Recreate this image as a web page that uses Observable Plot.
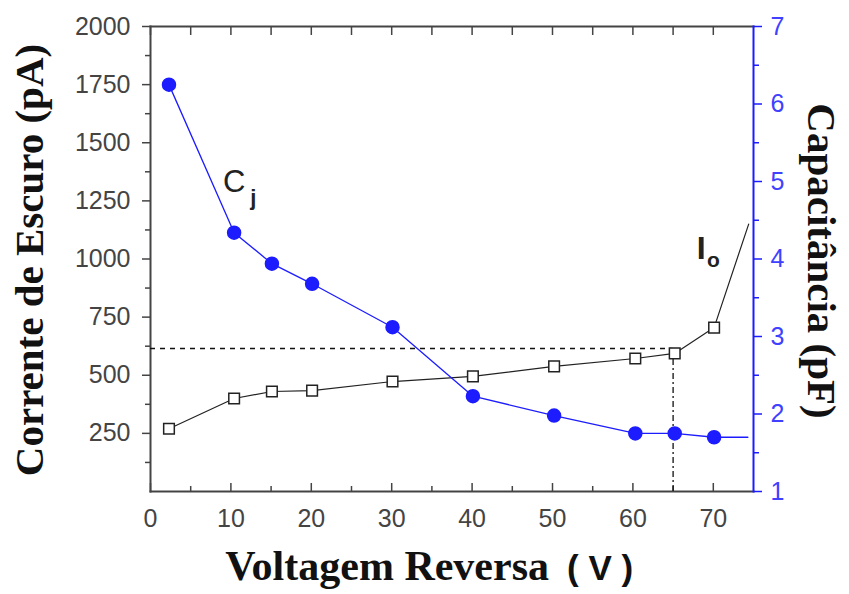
<!DOCTYPE html>
<html><head><meta charset="utf-8">
<script src="https://cdn.jsdelivr.net/npm/d3@7"></script>
<script src="https://cdn.jsdelivr.net/npm/@observablehq/plot@0.6"></script>
<style>body{margin:0;background:#fff}</style>
</head><body><div id="chart"></div>
<script>
const voltage = [2.3, 10.4, 15.1, 20.1, 30.1, 40.1, 50.2, 60.3, 65.2, 70.1];
const current = [270, 400, 430, 434, 473, 495, 538, 572, 594, 705];
const capacitance = [6.25, 4.34, 3.94, 3.68, 3.12, 2.23, 1.98, 1.75, 1.75, 1.70];
const ioTail = {v: 74.4, i: 1150};
const cjTail = {v: 74.3, c: 1.70};
const refCurrent = 615, refVoltage = 65;
const leftTicks = [250, 500, 750, 1000, 1250, 1500, 1750, 2000];
const leftMinor = [125, 375, 625, 875, 1125, 1375, 1625, 1875];
const xTicks = [0, 10, 20, 30, 40, 50, 60, 70];
const xMinor = [5, 15, 25, 35, 45, 55, 65];
const capTicks = [1, 2, 3, 4, 5, 6, 7];
const capMinor = [1.5, 2.5, 3.5, 4.5, 5.5, 6.5];
const capMin = 1, capMax = 7, iMax = 2000;
const c2i = c => (c - capMin) * iMax / (capMax - capMin);
const i2c = i => i * (capMax - capMin) / iMax + capMin;

const io = voltage.map((v, k) => ({v, i: current[k]}));
const ioLine = [...io, ioTail];
const cj = voltage.map((v, k) => ({v, c: capacitance[k], i: c2i(capacitance[k])}));
const cjLine = [...cj, {v: cjTail.v, c: cjTail.c, i: c2i(cjTail.c)}];

const blue = "#1c1cff";
const tickFont = "'Liberation Sans', Arial, sans-serif";
const serif = "'Liberation Serif', 'Times New Roman', serif";
const fmt = d3.format("d");

const chart = Plot.plot({
  width: 849, height: 594,
  marginLeft: 150, marginRight: 96, marginTop: 26, marginBottom: 103,
  x: {domain: [0, 75]},
  y: {domain: [0, iMax]},
  style: {fontFamily: tickFont, background: "#fff"},
  marks: [
    // frame
    Plot.frame({anchor: "top", stroke: "#444", strokeWidth: 2}),
    Plot.frame({anchor: "left", stroke: "#444", strokeWidth: 2}),
    Plot.frame({anchor: "bottom", stroke: "#444", strokeWidth: 2}),
    Plot.frame({anchor: "right", stroke: blue, strokeWidth: 2}),
    // left axis
    Plot.axisY({anchor: "left", ticks: leftTicks, tickFormat: fmt, tickSize: 8, tickPadding: 12, fontSize: 25, fill: "#444", stroke: "#444", strokeWidth: 1.5, label: null}),
    Plot.axisY({anchor: "left", ticks: leftMinor, tickSize: 5, tickFormat: () => "", stroke: "#444", strokeWidth: 1.5, label: null}),
    // bottom axis (ticks inward)
    Plot.axisX({anchor: "bottom", ticks: xTicks, tickFormat: fmt, tickSize: 0, tickPadding: 18, fontSize: 25, fill: "#444", label: null}),
    Plot.axisX({anchor: "bottom", ticks: xTicks, tickSize: -8, tickFormat: () => "", stroke: "#444", strokeWidth: 1.5, label: null}),
    Plot.axisX({anchor: "bottom", ticks: xMinor, tickSize: -5, tickFormat: () => "", stroke: "#444", strokeWidth: 1.5, label: null}),
    // top axis ticks inward
    Plot.axisX({anchor: "top", ticks: xTicks.concat(xMinor), tickSize: -8, tickFormat: () => "", stroke: "#444", strokeWidth: 1.5, label: null}),
    // right axis (capacitance)
    Plot.axisY({anchor: "right", ticks: capTicks.map(c2i), tickFormat: d => String(Math.round(i2c(d))), tickSize: 8, tickPadding: 9, fontSize: 25, fill: "#4040ff", stroke: blue, strokeWidth: 1.5, label: null}),
    Plot.axisY({anchor: "right", ticks: capMinor.map(c2i), tickSize: 5, tickFormat: () => "", stroke: blue, strokeWidth: 1.5, label: null}),
    // reference lines
    Plot.ruleY([refCurrent], {x1: 0, x2: refVoltage, stroke: "#111", strokeWidth: 1.3, strokeDasharray: "5,5"}),
    Plot.ruleX([refVoltage], {y1: 0, y2: refCurrent, stroke: "#111", strokeWidth: 1.3, strokeDasharray: "6,3,2,3"}),
    // Io series
    Plot.line(ioLine, {x: "v", y: "i", stroke: "#222", strokeWidth: 1.2}),
    Plot.dot(io, {x: "v", y: "i", symbol: "square", r: 6, fill: "#fff", stroke: "#222", strokeWidth: 1.5}),
    // Cj series
    Plot.line(cjLine, {x: "v", y: "i", stroke: blue, strokeWidth: 1.3}),
    Plot.dot(cj, {x: "v", y: "i", r: 6.5, fill: blue, stroke: blue}),
    // series labels
    Plot.text(["C"], {x: 10.4, y: 1329, fontSize: 31, fill: "#222", fontFamily: tickFont}),
    Plot.text(["j"], {x: 12.8, y: 1262, fontSize: 22, fontWeight: "bold", fill: "#222", fontFamily: tickFont}),
    Plot.text(["I"], {x: 68.5, y: 1045, fontSize: 32, fontWeight: "bold", fill: "#222", fontFamily: tickFont}),
    Plot.text(["o"], {x: 70.0, y: 994, fontSize: 21, fontWeight: "bold", fill: "#222", fontFamily: tickFont}),
    // axis titles
    Plot.text(["Corrente de Escuro (pA)"], {frameAnchor: "left", textAnchor: "middle", dx: -121, dy: 1, rotate: -90, fontSize: 41, fontWeight: "bold", fontFamily: serif, fill: "#111"}),
    Plot.text(["Capacitância (pF)"], {frameAnchor: "right", textAnchor: "middle", dx: 68, dy: 2, rotate: 90, fontSize: 41, fontWeight: "bold", fontFamily: serif, fill: "#111"}),
    Plot.text(["Voltagem Reversa"], {frameAnchor: "bottom", textAnchor: "end", dx: 97, dy: 88, fontSize: 42, fontWeight: "bold", fontFamily: serif, fill: "#111"}),
    Plot.text(["( V )"], {frameAnchor: "bottom", textAnchor: "start", dx: 115, dy: 88, fontSize: 35, fontWeight: "bold", fontFamily: tickFont, fill: "#111"})
  ]
});
document.getElementById("chart").appendChild(chart);
</script>
</body></html>
